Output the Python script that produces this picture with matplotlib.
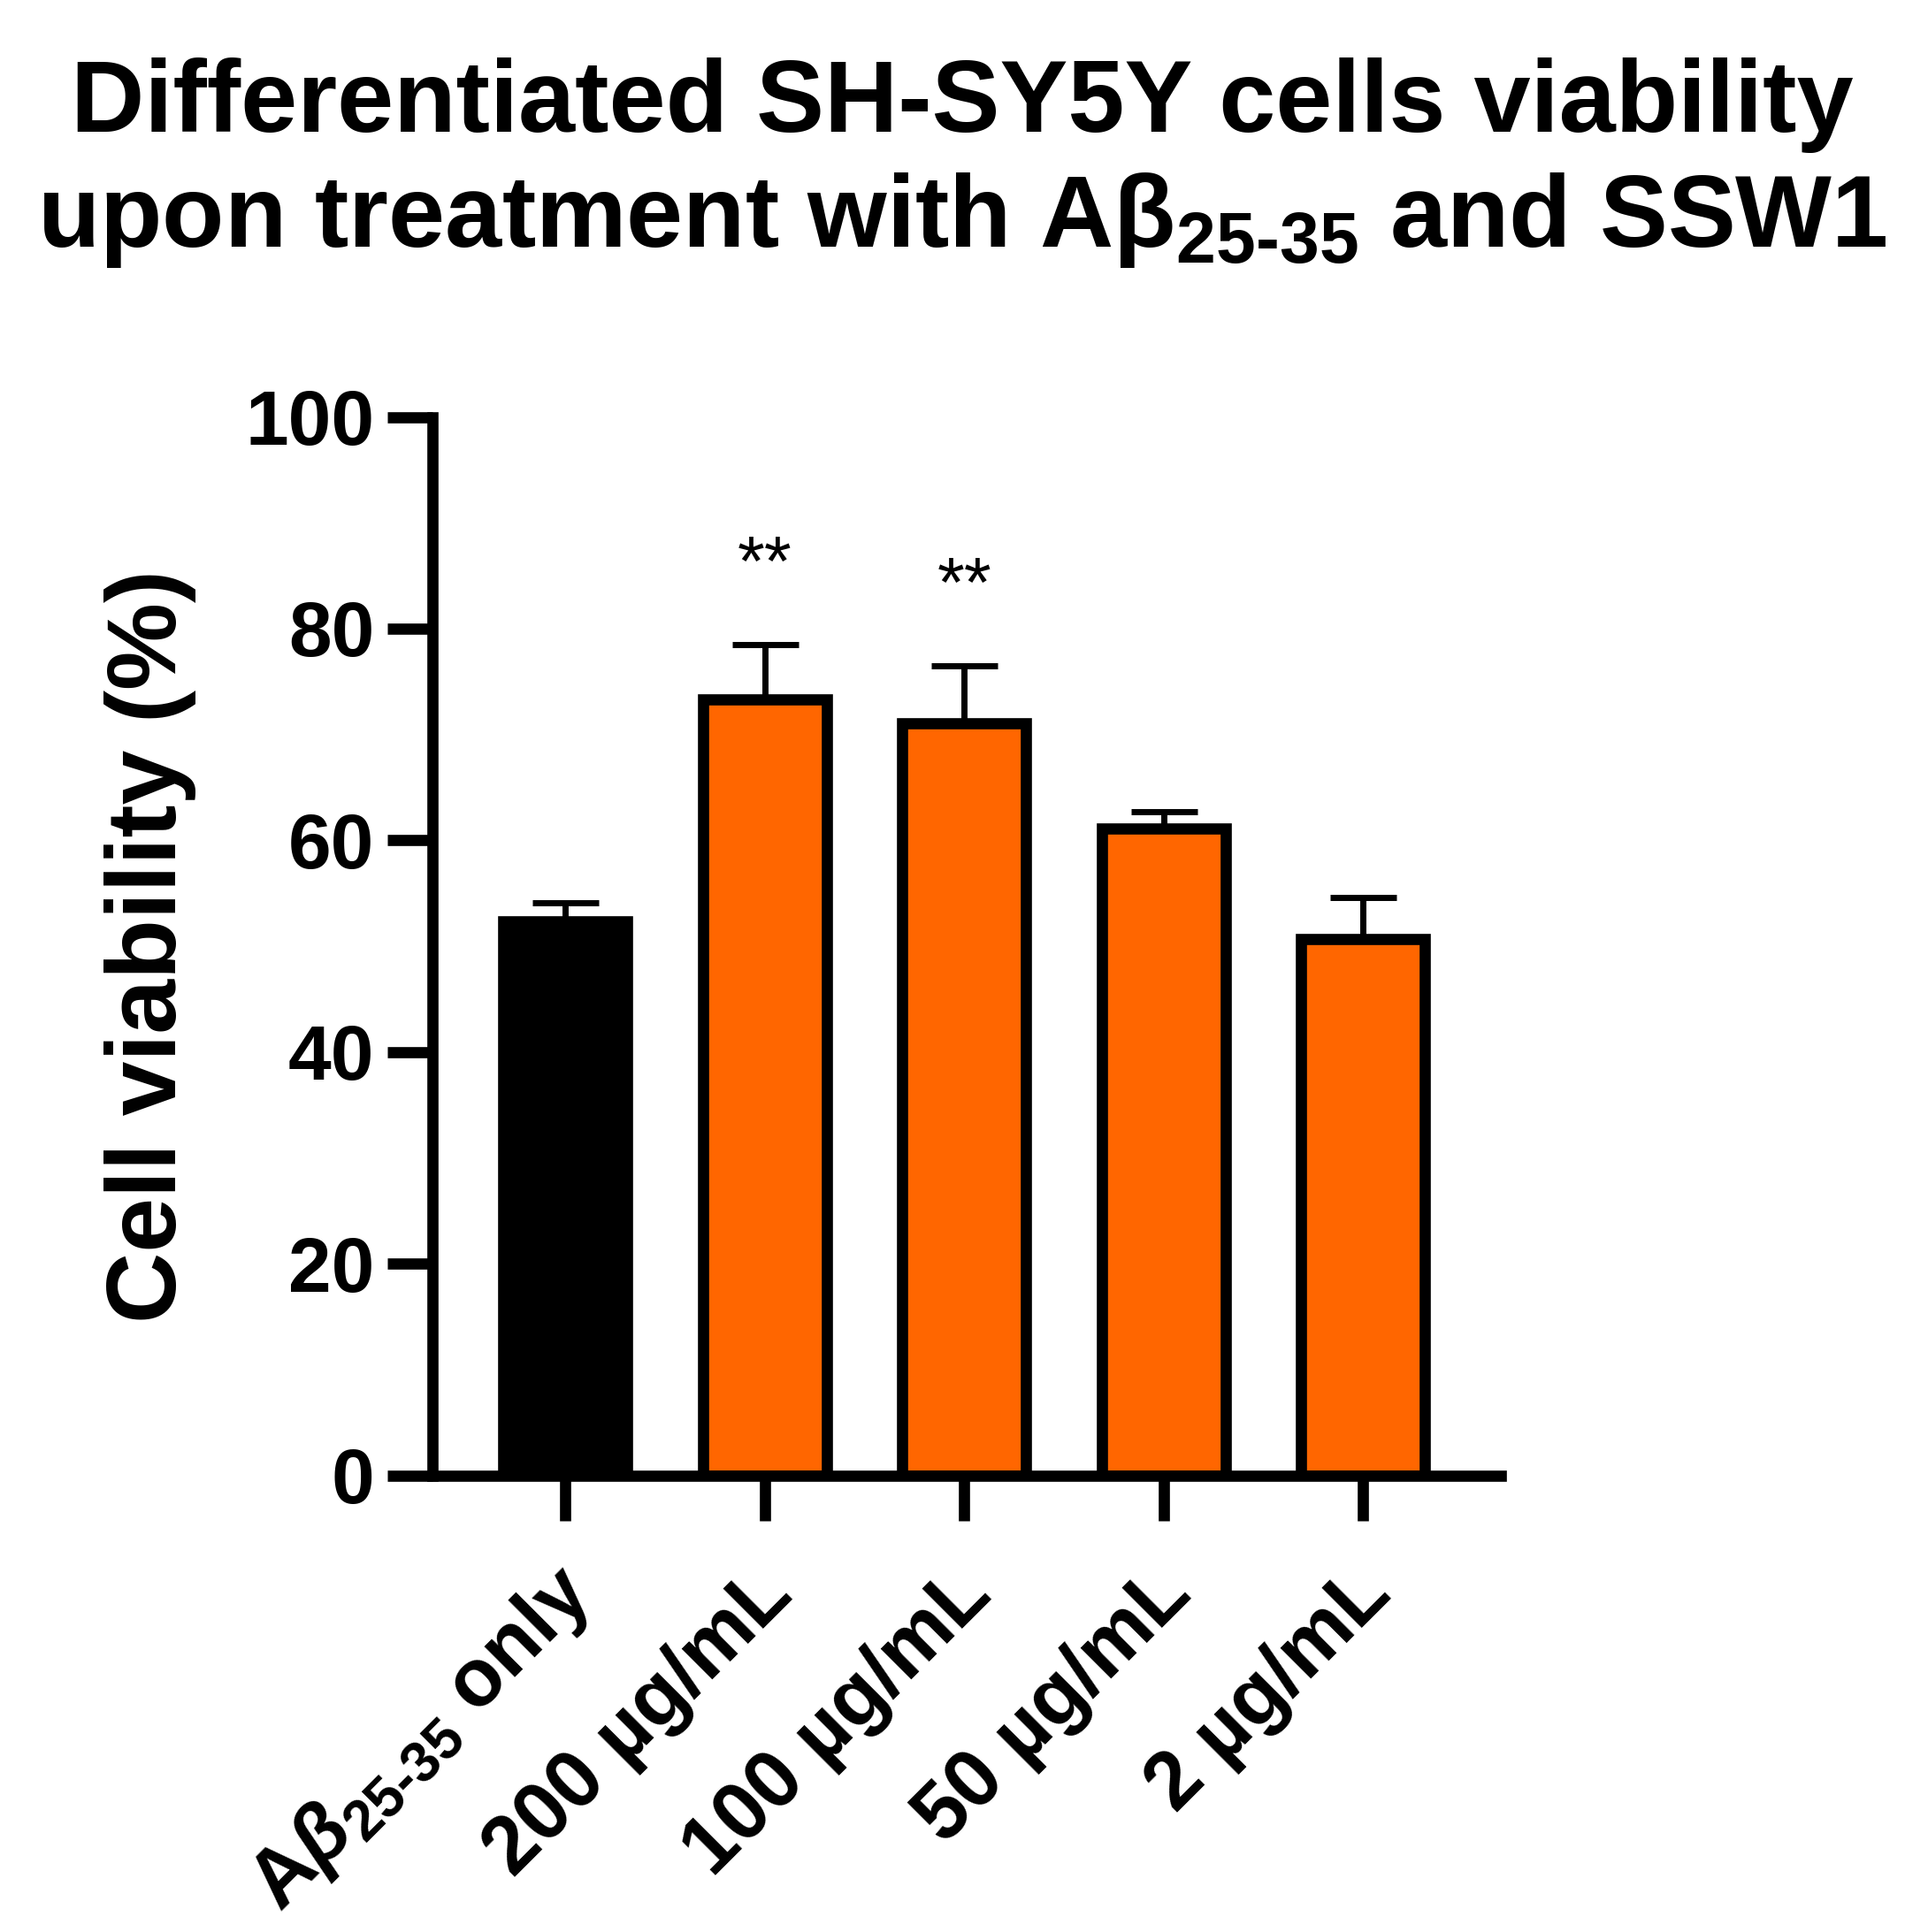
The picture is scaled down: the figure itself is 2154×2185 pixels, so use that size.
import numpy as np
import matplotlib
matplotlib.use('Agg')
import matplotlib.pyplot as plt
import matplotlib.transforms as mtransforms

plt.rcParams['font.family'] = ['Liberation Sans', 'DejaVu Sans']
plt.rcParams['font.weight'] = 'bold'
plt.rcParams['mathtext.fontset'] = 'custom'
plt.rcParams['mathtext.rm'] = 'Liberation Sans'
plt.rcParams['mathtext.bf'] = 'Liberation Sans:bold'
plt.rcParams['mathtext.it'] = 'Liberation Sans:italic'

# data
groups = [r'A$\beta_{\mathrm{25\text{-}35}}$ only', '200 µg/mL', '100 µg/mL', '50 µg/mL', '2 µg/mL']
viability = [52.4, 73.3, 71.1, 61.1, 50.7]
sd = [1.7, 5.2, 5.4, 1.65, 3.95]
stars = ['', '**', '**', '', '']
bar_colors = ['black', '#FF6600', '#FF6600', '#FF6600', '#FF6600']

lw = 9.1
fig = plt.figure(figsize=(21.54, 21.85), dpi=100)
ax = fig.add_axes([0.2269, 0.23616, 0.5609, 0.54805])

x = np.arange(len(groups))
ax.errorbar(x, viability, yerr=[np.zeros(len(sd)), sd], fmt='none', ecolor='black',
            elinewidth=5, capsize=27, capthick=5, zorder=1)
bars = ax.bar(x, viability, width=0.62, color=bar_colors, edgecolor='black',
              linewidth=lw, zorder=2)
for b in bars:
    b.set_joinstyle('miter')

for xi, v, s, st in zip(x, viability, sd, stars):
    if st:
        ax.text(xi, v + s + 5.6, st, ha='center', va='baseline',
                fontsize=57, fontweight='normal')

ax.set_xlim(-0.667, 4.69)
ax.set_ylim(0, 100)
ax.set_yticks([0, 20, 40, 60, 80, 100])
ax.set_xticks(x)
ax.set_xticklabels(groups, rotation=45, ha='right', va='center',
                   rotation_mode='anchor', fontsize=66, fontweight='bold')
ax.tick_params(axis='y', labelsize=63, width=lw, length=37, pad=10)
ax.tick_params(axis='x', width=lw, length=37, pad=14)
for lab in ax.get_yticklabels():
    lab.set_fontweight('bold')

# push the slanted labels down and right a little
shift = mtransforms.ScaledTranslation(17 / 100, -49 / 100, fig.dpi_scale_trans)
for lab in ax.get_xticklabels():
    lab.set_transform(lab.get_transform() + shift)

for side in ['top', 'right']:
    ax.spines[side].set_visible(False)
for side in ['left', 'bottom']:
    ax.spines[side].set_linewidth(lw)
    ax.spines[side].set_capstyle('projecting')

ax.set_ylabel('Cell viability (%)', fontsize=80, fontweight='bold', labelpad=40)

fig.text(0.505, 1 - 149 / 2185, 'Differentiated SH-SY5Y cells viability',
         ha='center', va='baseline', fontsize=83, fontweight='bold')
fig.text(0.505, 1 - 279 / 2185,
         r'upon treatment with A$\mathbf{\beta_{25\text{-}35}}$ and SSW1',
         ha='center', va='baseline', fontsize=83, fontweight='bold')

fig.savefig('out.png', dpi=100)
